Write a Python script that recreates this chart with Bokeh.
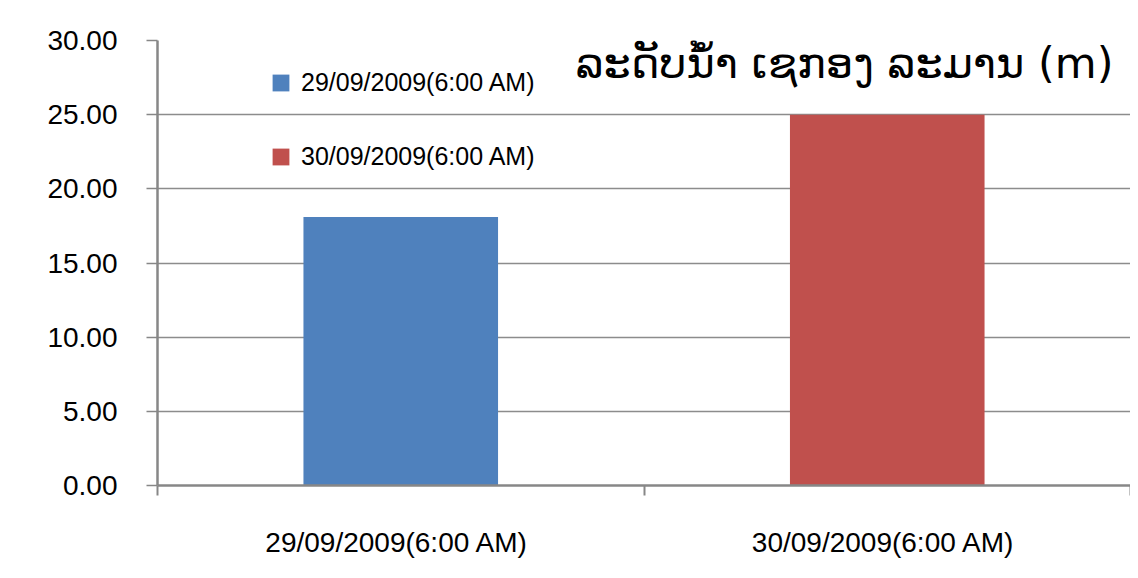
from bokeh.plotting import figure
from bokeh.models import (Range1d, LinearAxis, FixedTicker,
                          NumeralTickFormatter, Legend, LegendItem, Label, ColumnDataSource)
from bokeh.embed import file_html
from bokeh.resources import INLINE

# ---- data ----
categories = ["29/09/2009(6:00  AM)", "30/09/2009(6:00  AM)"]
legend_labels = ["29/09/2009(6:00 AM)", "30/09/2009(6:00 AM)"]
values = [18.10, 25.00]
colors = ["#4F81BD", "#C0504D"]
title_text = "ລະດັບນ້ຳ ເຊກອງ ລະມານ (m)"
y_ticks = [0, 5, 10, 15, 20, 25, 30]

GRAY = "#878787"
FONT = "Liberation Sans"

n = len(categories)
centers = [i + 0.5 for i in range(n)]
bounds = list(range(n + 1))

p = figure(width=1130, height=570,
           x_range=Range1d(0, n),
           y_range=Range1d(0, 30),
           x_axis_location=None, y_axis_location="left",
           output_backend="svg", toolbar_location=None,
           min_border_left=157, min_border_right=0,
           min_border_top=40, min_border_bottom=85)
p.outline_line_color = None
p.background_fill_color = "white"
p.border_fill_color = "white"

src = ColumnDataSource(dict(x=centers, top=values, color=colors, label=legend_labels))
r = p.vbar(x="x", top="top", width=0.4, color="color", line_color=None, source=src)

# y axis
ya = p.yaxis[0]
ya.ticker = FixedTicker(ticks=y_ticks)
ya.formatter = NumeralTickFormatter(format="0.00")
ya.axis_line_color = GRAY
ya.axis_line_width = 2.5
ya.major_tick_line_color = GRAY
ya.major_tick_line_width = 1.5
ya.major_tick_out = 11
ya.major_tick_in = 0
ya.minor_tick_line_color = None
ya.major_label_text_font = FONT
ya.major_label_text_font_size = "28px"
ya.major_label_text_color = "black"
ya.major_label_standoff = 29

p.ygrid.ticker = FixedTicker(ticks=y_ticks)
p.ygrid.grid_line_color = "#8c8c8c"
p.ygrid.grid_line_width = 1.5
p.xgrid.visible = False

# x axis: boundary ticks (no labels)
xa_ticks = LinearAxis(ticker=FixedTicker(ticks=bounds),
                      major_label_overrides={b: "" for b in bounds},
                      axis_line_color=GRAY, axis_line_width=2.5,
                      major_tick_line_color=GRAY, major_tick_line_width=2,
                      major_tick_out=10, major_tick_in=0,
                      minor_tick_line_color=None,
                      major_label_text_color=None,
                      major_label_text_font_size="0px", major_label_standoff=0)
p.add_layout(xa_ticks, "below")

# x axis: category labels
xa_labels = LinearAxis(ticker=FixedTicker(ticks=centers),
                       major_label_overrides={c: cat for c, cat in zip(centers, categories)},
                       axis_line_color=None, major_tick_line_color=None,
                       minor_tick_line_color=None,
                       major_label_text_font=FONT,
                       major_label_text_font_size="28px",
                       major_label_text_color="black",
                       major_label_standoff=25)
p.add_layout(xa_labels, "below")

# legend
items = [LegendItem(label=legend_labels[i], renderers=[r], index=i) for i in range(n)]
legend = Legend(items=items, location=(113, 314),
                border_line_color=None, background_fill_alpha=0,
                padding=0, margin=0, spacing=45, label_standoff=10,
                glyph_width=21, glyph_height=21, label_height=21,
                label_text_font=FONT, label_text_font_size="25px",
                label_text_color="black")
p.add_layout(legend)

# title
title = Label(x=1.965, y=28.5, text=title_text,
              text_align="right", text_baseline="alphabetic",
              text_font="DejaVu Sans", text_font_size="43px", text_color="black")
p.add_layout(title)

open("out.html", "w").write(file_html(p, INLINE))
